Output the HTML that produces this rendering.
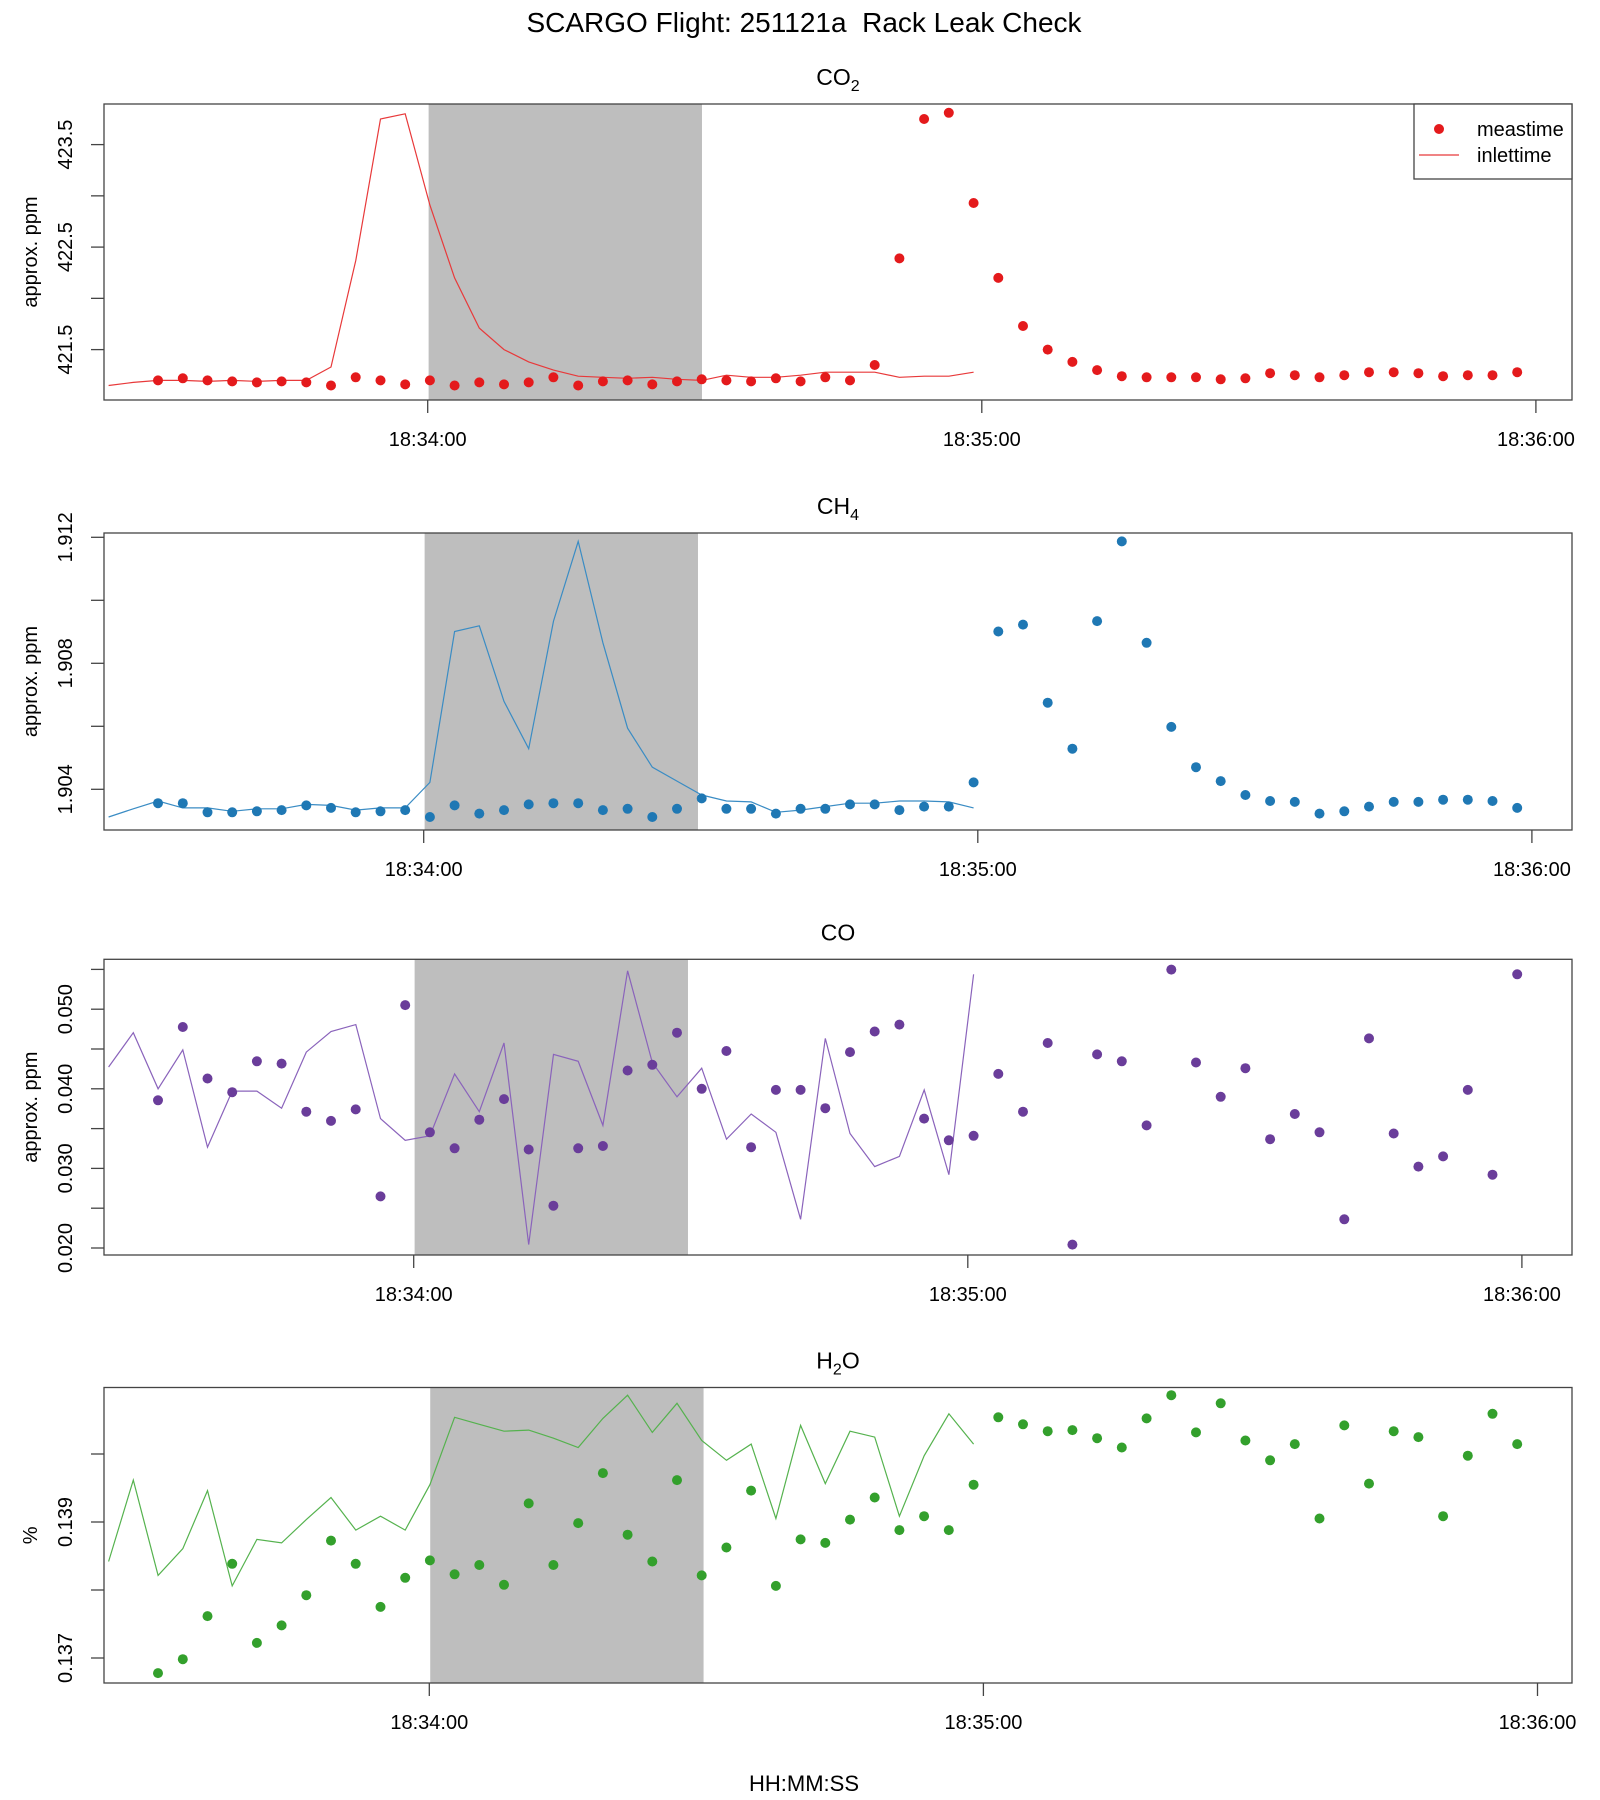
<!DOCTYPE html>
<html><head><meta charset="utf-8">
<style>
html,body{margin:0;padding:0;background:#fff;}
svg{display:block;font-family:"Liberation Sans",Arial,sans-serif;}
</style></head>
<body>
<svg id="chart" width="1600" height="1800" xmlns="http://www.w3.org/2000/svg">
<rect x="0" y="0" width="1600" height="1800" fill="#fff"/>
<text x="804" y="32" text-anchor="middle" font-size="28" fill="#000" xml:space="preserve" style="white-space:pre">SCARGO Flight: 251121a&#160; Rack Leak Check</text>
<text x="804" y="1791" text-anchor="middle" font-size="22" fill="#000">HH:MM:SS</text>
<g id="panels"></g>
</svg>
<script>
// ---- data ----
var tickTimes = [0, 60, 120];
var tickLabels = ["18:34:00", "18:35:00", "18:36:00"];
var measStart = -29.2;
var lineStart = -34.55;
var sampleStep = 2.676;
var shadeStart = 0.1;
var shadeEnd = 29.7;

var co2Meas = [421.20,421.22,421.20,421.19,421.18,421.19,421.18,421.15,421.23,421.20,
421.16,421.20,421.15,421.18,421.16,421.18,421.23,421.15,421.19,421.20,
421.16,421.19,421.21,421.20,421.19,421.22,421.19,421.23,421.20,421.35,
422.39,423.75,423.81,422.93,422.20,421.73,421.50,421.38,421.30,421.24,
421.23,421.23,421.23,421.21,421.22,421.27,421.25,421.23,421.25,421.28,
421.28,421.27,421.24,421.25,421.25,421.28];
var co2Inlet = [421.15,421.18,421.20,421.20,421.19,421.20,421.19,421.20,421.20,421.33,
422.37,423.75,423.80,422.91,422.20,421.71,421.50,421.38,421.30,421.24,
421.23,421.22,421.23,421.21,421.20,421.25,421.23,421.23,421.25,421.28,
421.28,421.28,421.23,421.24,421.24,421.28];

var ch4Meas = [1.90356,1.90356,1.90327,1.90327,1.90330,1.90334,1.90349,1.90341,1.90327,1.90330,
1.90334,1.90312,1.90349,1.90323,1.90334,1.90352,1.90356,1.90356,1.90334,1.90338,
1.90312,1.90338,1.90371,1.90338,1.90338,1.90323,1.90338,1.90338,1.90352,1.90352,
1.90334,1.90345,1.90345,1.90422,1.90901,1.90923,1.90675,1.90529,1.90934,1.91187,
1.90865,1.90598,1.90470,1.90426,1.90382,1.90363,1.90360,1.90323,1.90330,1.90345,
1.90360,1.90360,1.90367,1.90367,1.90363,1.90341];
var ch4Inlet = [1.90312,1.90338,1.90363,1.90341,1.90341,1.90330,1.90338,1.90338,1.90352,1.90349,
1.90334,1.90341,1.90341,1.90422,1.90901,1.90919,1.90679,1.90529,1.90934,1.91187,
1.90865,1.90594,1.90470,1.90426,1.90382,1.90363,1.90360,1.90327,1.90334,1.90345,
1.90356,1.90356,1.90363,1.90363,1.90360,1.90341];

var coMeas = [0.03856,0.04777,0.04130,0.03957,0.04346,0.04317,0.03712,0.03597,0.03741,0.02648,
0.05051,0.03453,0.03252,0.03612,0.03871,0.03238,0.02532,0.03252,0.03281,0.04230,
0.04302,0.04705,0.04000,0.04475,0.03266,0.03986,0.03986,0.03756,0.04461,0.04720,
0.04806,0.03626,0.03353,0.03410,0.04187,0.03712,0.04576,0.02043,0.04432,0.04346,
0.03540,0.05497,0.04331,0.03899,0.04259,0.03367,0.03684,0.03453,0.02360,0.04633,
0.03439,0.03022,0.03151,0.03986,0.02921,0.05439];
var coInlet = [0.04274,0.04705,0.04000,0.04489,0.03266,0.03971,0.03971,0.03756,0.04461,0.04720,
0.04806,0.03626,0.03353,0.03410,0.04187,0.03712,0.04576,0.02043,0.04432,0.04346,
0.03540,0.05482,0.04331,0.03899,0.04259,0.03367,0.03684,0.03453,0.02360,0.04633,
0.03439,0.03022,0.03151,0.03986,0.02921,0.05439];

var h2oMeas = [0.136778,0.136983,0.137616,0.138385,0.137222,0.137479,0.137923,0.138727,0.138385,0.137752,
0.138180,0.138436,0.138231,0.138368,0.138077,0.139274,0.138368,0.138984,0.139719,0.138813,
0.138419,0.139616,0.138214,0.138625,0.139462,0.138060,0.138744,0.138693,0.139035,0.139360,
0.138881,0.139086,0.138881,0.139548,0.140540,0.140437,0.140335,0.140352,0.140232,0.140095,
0.140523,0.140865,0.140317,0.140745,0.140198,0.139907,0.140146,0.139052,0.140420,0.139565,
0.140335,0.140249,0.139086,0.139975,0.140591,0.140146];
var h2oInlet = [0.138419,0.139616,0.138214,0.138607,0.139462,0.138060,0.138744,0.138693,0.139035,0.139360,
0.138881,0.139086,0.138881,0.139548,0.140540,0.140437,0.140335,0.140352,0.140232,0.140095,
0.140523,0.140865,0.140317,0.140745,0.140198,0.139907,0.140146,0.139052,0.140420,0.139565,
0.140335,0.140249,0.139086,0.139975,0.140591,0.140146];

var co2Ticks = [421.5, 422, 422.5, 423, 423.5];
var co2TickLabels = ["421.5", "", "422.5", "", "423.5"];
var ch4Ticks = [1.904, 1.906, 1.908, 1.910, 1.912];
var ch4TickLabels = ["1.904", "", "1.908", "", "1.912"];
var coTicks = [0.020, 0.025, 0.030, 0.035, 0.040, 0.045, 0.050, 0.055];
var coTickLabels = ["0.020", "", "0.030", "", "0.040", "", "0.050", ""];
var h2oTicks = [0.137, 0.138, 0.139, 0.140];
var h2oTickLabels = ["0.137", "", "0.139", ""];

// ---- layout ----
var NS = "http://www.w3.org/2000/svg";
var boxL = 104, boxR = 1572;
var pxPerSec = 9.235, baseX = 427.7;
var panels = [
  {key:"co2", title:["CO","2"], ylab:"approx. ppm", top:104, bot:400, ref:421.5, refY:349.6, ppu:102.5, off:0,
   meas:co2Meas, inlet:co2Inlet, ticks:co2Ticks, tl:co2TickLabels, col:"#e41a1c", lcol:"#e8393a", legend:true},
  {key:"ch4", title:["CH","4"], ylab:"approx. ppm", top:533, bot:830, ref:1.904, refY:789.3, ppu:31500, off:-4,
   meas:ch4Meas, inlet:ch4Inlet, ticks:ch4Ticks, tl:ch4TickLabels, col:"#1f78b4", lcol:"#3a8cc4"},
  {key:"co", title:["CO",""], ylab:"approx. ppm", top:959.3, bot:1255, ref:0.020, refY:1248, ppu:7960, off:-14,
   meas:coMeas, inlet:coInlet, ticks:coTicks, tl:coTickLabels, col:"#6a3d9a", lcol:"#8a63bb"},
  {key:"h2o", title:["H","2","O"], ylab:"%", top:1387.5, bot:1683, ref:0.137, refY:1658, ppu:68000, off:1.6,
   meas:h2oMeas, inlet:h2oInlet, ticks:h2oTicks, tl:h2oTickLabels, col:"#33a02c", lcol:"#55b24e"}
];
function xData(t){ return baseX + t*pxPerSec; }
function xAxis(p, t){ return baseX + p.off + t*pxPerSec; }
function yScale(p, v){ return p.refY - (v - p.ref)*p.ppu; }
function mk(tag, attrs, parent){
  var e = document.createElementNS(NS, tag);
  for (var k in attrs) e.setAttribute(k, attrs[k]);
  parent.appendChild(e);
  return e;
}
var root = document.getElementById("panels");
panels.forEach(function(p){
  var g = mk("g", {}, root);
  
  
  var h = p.bot - p.top;
  var cp = mk("clipPath", {id:"clip-"+p.key}, g);
  mk("rect", {x:boxL, y:p.top, width:boxR-boxL, height:h}, cp);

  var tt = mk("text", {x:(boxL+boxR)/2, y:p.top-19, "text-anchor":"middle", "font-size":23, fill:"#000"}, g);
  
  
  tt.appendChild(document.createTextNode(p.title[0]));
  if (p.title[1]) {
    var sub = mk("tspan", {"font-size":16, dy:6}, tt);
    sub.textContent = p.title[1];
    if (p.title[2]) { var rest = mk("tspan", {dy:-6}, tt); rest.textContent = p.title[2]; }
  }

  var sh = mk("rect", {x:xAxis(p, shadeStart), y:p.top, width:xAxis(p, shadeEnd)-xAxis(p, shadeStart), height:h, fill:"#bebebe"}, g);
  
  

  var d = "";
  for (var i=0;i<p.inlet.length;i++){
    var t = lineStart + i*sampleStep;
    d += (i?"L":"M") + xData(t).toFixed(1) + "," + yScale(p, p.inlet[i]).toFixed(1);
  }
  var ln = mk("path", {d:d, fill:"none", stroke:p.lcol, "stroke-width":1.2, "clip-path":"url(#clip-"+p.key+")"}, g);
  
  

  for (var j=0;j<p.meas.length;j++){
    var tm = measStart + j*sampleStep;
    var c = mk("circle", {cx:xData(tm).toFixed(1), cy:yScale(p, p.meas[j]).toFixed(1), r:5, fill:p.col}, g);
    
    
  }

  var bx = mk("rect", {x:boxL, y:p.top, width:boxR-boxL, height:h, fill:"none", stroke:"#444", "stroke-width":1.3}, g);
  
  

  for (var k=0;k<p.ticks.length;k++){
    var yy = yScale(p, p.ticks[k]);
    var tk = mk("line", {x1:boxL-13, x2:boxL, y1:yy, y2:yy, stroke:"#444", "stroke-width":1.3}, g);
    
    
    if (p.tl[k]) {
      var lb = mk("text", {x:0, y:0, transform:"translate(72,"+yy.toFixed(1)+") rotate(-90)", "text-anchor":"middle", "font-size":20, fill:"#000"}, g);
      
      
      lb.textContent = p.tl[k];
    }
  }
  var yl = mk("text", {x:0, y:0, transform:"translate(37,"+((p.top+p.bot)/2).toFixed(1)+") rotate(-90)", "text-anchor":"middle", "font-size":20, fill:"#000"}, g);
  
  
  yl.textContent = p.ylab;

  for (var m=0;m<tickTimes.length;m++){
    var xx = xAxis(p, tickTimes[m]);
    var xt = mk("line", {x1:xx, x2:xx, y1:p.bot, y2:p.bot+13, stroke:"#444", "stroke-width":1.3}, g);
    
    
    var xlb = mk("text", {x:xx, y:p.bot+46, "text-anchor":"middle", "font-size":20, fill:"#000"}, g);
    
    
    xlb.textContent = tickLabels[m];
  }

  if (p.legend) {
    var lg = mk("g", {}, g);
    
    
    mk("rect", {x:1414, y:104, width:158, height:75, fill:"#fff", stroke:"#444", "stroke-width":1.3}, lg);
    var ld = mk("circle", {cx:1439, cy:129, r:5, fill:p.col}, lg);
    
    
    var lt1 = mk("text", {x:1477, y:136, "font-size":20, fill:"#000"}, lg);
    
    
    lt1.textContent = "meastime";
    var ll = mk("line", {x1:1419, x2:1459, y1:155, y2:155, stroke:p.lcol, "stroke-width":1.2}, lg);
    
    
    var lt2 = mk("text", {x:1477, y:162, "font-size":20, fill:"#000"}, lg);
    
    
    lt2.textContent = "inlettime";
  }
});
</script>
</body></html>
